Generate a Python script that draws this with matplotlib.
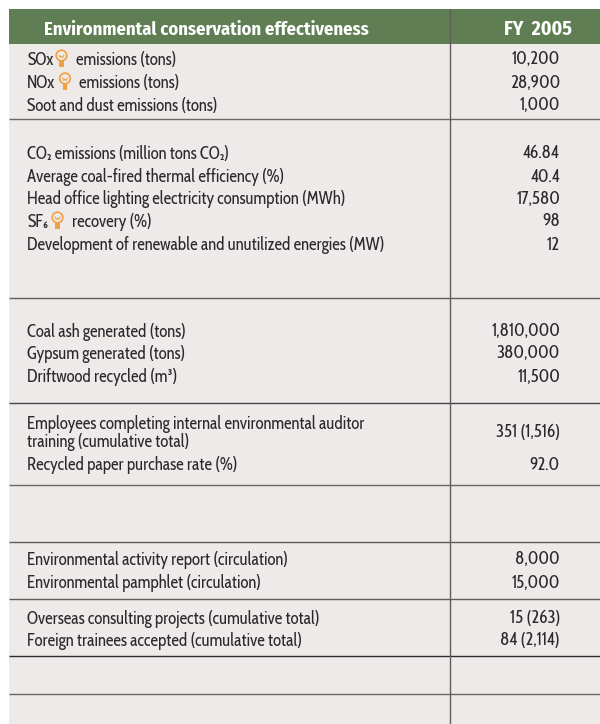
import matplotlib
matplotlib.use("Agg")
import matplotlib.pyplot as plt
from matplotlib.patches import Circle, Rectangle

BODY_FONT = ['Cabin Condensed', 'Fira Sans Condensed', 'Roboto Condensed', 'DejaVu Sans']
HEAD_FONT = ['Fira Sans Condensed', 'Roboto Condensed', 'DejaVu Sans']
plt.rcParams['font.family'] = BODY_FONT

header_label = "Environmental conservation effectiveness"
header_value = "FY  2005"

labels = [
    "SOx", "NOx", "Soot and dust emissions (tons)",
    "CO₂ emissions (million tons CO₂)",
    "Average coal-fired thermal efficiency (%)",
    "Head office lighting electricity consumption (MWh)",
    "SF₆",
    "Development of renewable and unutilized energies (MW)",
    "Coal ash generated (tons)", "Gypsum generated (tons)", "Driftwood recycled (m³)",
    "Employees completing internal environmental auditor\ntraining (cumulative total)",
    "Recycled paper purchase rate (%)",
    "Environmental activity report (circulation)",
    "Environmental pamphlet (circulation)",
    "Overseas consulting projects (cumulative total)",
    "Foreign trainees accepted (cumulative total)",
]
values = ["10,200", "28,900", "1,000", "46.84", "40.4", "17,580", "98", "12",
          "1,810,000", "380,000", "11,500", "351 (1,516)", "92.0",
          "8,000", "15,000", "15 (263)", "84 (2,114)"]
row_y = [60, 83, 106, 154, 177, 199, 222, 245, 332, 354, 377, 433, 465, 560, 583, 619, 641]
# row index, icon x, suffix, suffix x
bulb_rows = [(0, 61.5, "emissions (tons)", 76), (1, 65, "emissions (tons)", 79),
             (6, 57.5, "recovery (%)", 72.5)]
rule_y = [118.5, 297.5, 402.5, 484.5, 542, 598.7, 656.3, 694]
rule_colors = ["#6a6766", "#5f5c5b", "#454343", "#6a6766", "#5f5c5b", "#5f5c5b", "#2e2c2c", "#6a6766"]

GREEN = "#5f7e54"
BG = "#eeeaea"
INK = "#2b2a2a"
BULB = "#f0a040"
FS = 12.2
VS = 12.6

fig = plt.figure(figsize=(6, 7.24), dpi=100)
ax = fig.add_axes([0, 0, 1, 1])
ax.set_xlim(0, 600)
ax.set_ylim(724, 0)
ax.axis("off")

ax.add_patch(Rectangle((9.3, 9), 591, 715, fc=BG, ec="none", zorder=0))
ax.add_patch(Rectangle((9.3, 9), 591, 35, fc=GREEN, ec="none", zorder=1))
for y, c in zip(rule_y, rule_colors):
    ax.plot([9.3, 600], [y, y], color=c, lw=1.0, zorder=2, solid_capstyle="butt")
ax.plot([449.5, 449.5], [9, 724], color="#5f5c5b", lw=1.0, zorder=3, solid_capstyle="butt")

ax.text(44, 29.5, header_label, color="white", fontsize=13.3, fontweight="bold", family=HEAD_FONT,
        va="center", ha="left", zorder=4)
ax.text(572, 29.5, header_value, color="white", fontsize=14.2, fontweight="bold", family=HEAD_FONT,
        va="center", ha="right", zorder=4)

for lab, val, y in zip(labels, values, row_y):
    ax.text(27, y, lab, color=INK, fontsize=FS, va="center", ha="left", linespacing=0.95, zorder=4)
    ax.text(560, y, val, color=INK, fontsize=VS, va="center", ha="right", zorder=4)

for idx, bx, suffix, sx in bulb_rows:
    y = row_y[idx] - 1
    ax.add_patch(Circle((bx, y - 3.5), 5.3, fc="none", ec=BULB, lw=1.2, zorder=4))
    ax.add_patch(Rectangle((bx - 2.3, y + 2.2), 4.6, 5.3, fc=BULB, ec="none", zorder=4))
    ax.plot([bx - 2.5, bx - 1.2, bx, bx + 1.2, bx + 2.5], [y - 4, y - 1.5, y - 3, y - 1.5, y - 4],
            color=BULB, lw=0.7, zorder=4)
    ax.text(sx, row_y[idx], suffix, color=INK, fontsize=FS, va="center", ha="left", zorder=4)

fig.savefig("out.png", dpi=100, facecolor="white")
